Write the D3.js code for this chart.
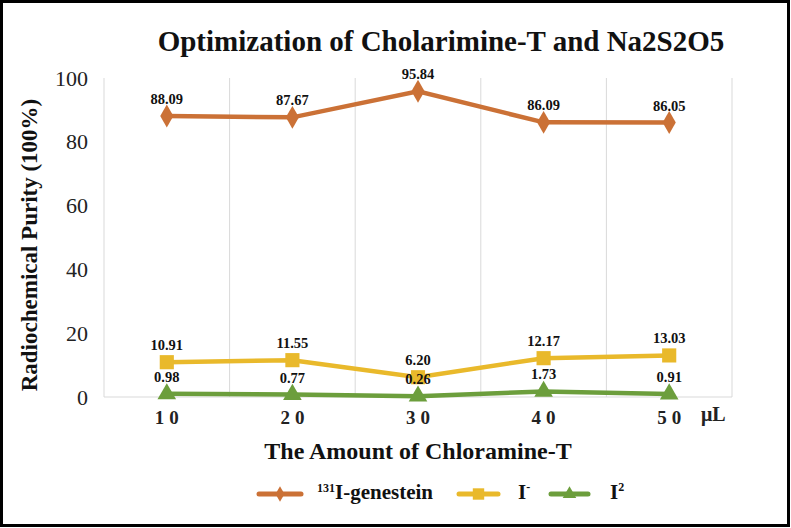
<!DOCTYPE html>
<html><head><meta charset="utf-8">
<script src="https://cdn.jsdelivr.net/npm/d3@7"></script>
<style>body{margin:0;background:#fff}svg{display:block}svg text{font-family:"Liberation Serif","DejaVu Serif",serif}</style>
</head><body>
<svg id="c" width="791" height="528"></svg>
<script>
const categories = ["10","20","30","40","50"];
const genestein = [88.09, 87.67, 95.84, 86.09, 86.05];
const iodide = [10.91, 11.55, 6.20, 12.17, 13.03];
const iodine = [0.98, 0.77, 0.26, 1.73, 0.91];
const yTicks = [0, 20, 40, 60, 80, 100];
const labels = {g:["88.09","87.67","95.84","86.09","86.05"], i:["10.91","11.55","6.20","12.17","13.03"], n:["0.98","0.77","0.26","1.73","0.91"]};

const svg = d3.select("#c");
const W=791,H=528;
svg.append("rect").attr("x",1.5).attr("y",1.5).attr("width",W-4).attr("height",H-4).attr("fill","#fff").attr("stroke","#000").attr("stroke-width",3);

const x = d3.scaleBand().domain(categories).range([104,732]);
const y = d3.scaleLinear().domain([0,100]).range([397,78]);

svg.append("g").selectAll("line").data(categories).join("line")
  .attr("x1",d=>x(d)+x.bandwidth()).attr("x2",d=>x(d)+x.bandwidth())
  .attr("y1",y(100)).attr("y2",y(0)).attr("stroke","#d9d9d9").attr("stroke-width",1);
svg.append("line").attr("x1",104).attr("x2",104).attr("y1",y(100)).attr("y2",y(0)).attr("stroke","#d9d9d9");
svg.append("line").attr("x1",104).attr("x2",732).attr("y1",y(0)).attr("y2",y(0)).attr("stroke","#d9d9d9");

const ya = svg.append("g").attr("transform","translate(104,0)").call(d3.axisLeft(y).tickValues(yTicks).tickSize(0).tickPadding(16));
ya.select(".domain").remove();
ya.selectAll("text").attr("font-family",null).attr("font-size",22).attr("fill","#222");

const xa = svg.append("g").attr("transform",`translate(0,${y(0)})`).call(d3.axisBottom(x).tickSize(0).tickPadding(14));
xa.select(".domain").remove();
xa.selectAll("text").attr("font-family",null).attr("font-size",19).attr("font-weight","bold").attr("fill","#222").attr("letter-spacing","5px").attr("dx","2.5px");
svg.append("text").attr("x",701).attr("y",421).attr("font-size",20).attr("font-weight","bold").attr("fill","#222").text("μL");

svg.append("text").attr("x",441).attr("y",51).attr("text-anchor","middle").attr("font-size",29).attr("font-weight","bold").attr("fill","#111").text("Optimization of Cholarimine-T and Na2S2O5");
svg.append("text").attr("x",418).attr("y",459).attr("text-anchor","middle").attr("font-size",24).attr("font-weight","bold").attr("fill","#111").text("The Amount of Chloramine-T");
svg.append("text").attr("transform","translate(37,245) rotate(-90)").attr("text-anchor","middle").attr("font-size",23).attr("font-weight","bold").attr("fill","#111").text("Radiochemical Purity (100%)");

const cx = d=>x(d)+x.bandwidth()/2;
const series = [
  {vals:genestein, lab:labels.g, color:"#CB7136", sym:d3.symbolDiamond, size:150},
  {vals:iodide, lab:labels.i, color:"#E9B92B", sym:d3.symbolSquare, size:200},
  {vals:iodine, lab:labels.n, color:"#6C9E3C", sym:d3.symbolTriangle, size:150}
];
const line = d3.line().x((d,i)=>cx(categories[i])).y(d=>y(d));
series.forEach(s=>{
  svg.append("path").datum(s.vals).attr("d",line).attr("fill","none").attr("stroke",s.color).attr("stroke-width",4.5);
  svg.append("g").selectAll("path").data(s.vals).join("path")
    .attr("d",d3.symbol().type(s.sym).size(s.size))
    .attr("transform",(d,i)=>`translate(${cx(categories[i])},${y(d)})`).attr("fill",s.color);
  svg.append("g").selectAll("text").data(s.vals).join("text")
    .attr("x",(d,i)=>cx(categories[i])).attr("y",d=>y(d)-12)
    .attr("text-anchor","middle").attr("font-size",14.5).attr("font-weight","bold").attr("fill","#111")
    .text((d,i)=>s.lab[i]);
});

const lg = svg.append("g");
const items = [
  {x1:259,x2:301,color:"#CB7136",sym:d3.symbolDiamond,size:70,tx:317,main:"I-genestein",sup:"131",pre:true},
  {x1:459,x2:498,color:"#E9B92B",sym:d3.symbolSquare,size:130,tx:518,main:"I",sup:"-",pre:false},
  {x1:551,x2:588,color:"#6C9E3C",sym:d3.symbolTriangle,size:80,tx:610,main:"I",sup:"2",pre:false}
];
items.forEach(it=>{
  lg.append("line").attr("x1",it.x1).attr("x2",it.x2).attr("y1",494).attr("y2",494).attr("stroke",it.color).attr("stroke-width",5).attr("stroke-linecap","round");
  lg.append("path").attr("d",d3.symbol().type(it.sym).size(it.size)).attr("transform",`translate(${(it.x1+it.x2)/2},494)`).attr("fill",it.color);
  const t = lg.append("text").attr("x",it.tx).attr("y",499).attr("font-size",21).attr("font-weight","bold").attr("fill","#111");
  if(it.pre){
    t.append("tspan").attr("font-size",12).attr("dy",-7).text(it.sup);
    t.append("tspan").attr("dy",7).text(it.main);
  } else {
    t.append("tspan").text(it.main);
    t.append("tspan").attr("font-size",12).attr("dy",-8).text(it.sup);
  }
});
</script>
</body></html>
